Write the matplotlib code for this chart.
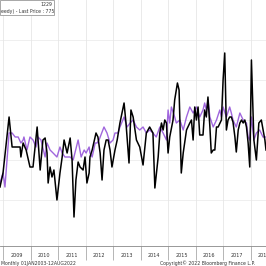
import matplotlib
matplotlib.use('Agg')
import matplotlib.pyplot as plt
import matplotlib.patches as mpatches

# price (black) - monthly, decimal years
px_dates = [2008.89, 2009.00, 2009.22, 2009.33, 2009.62, 2009.65, 2009.73, 2009.84, 2009.98,
            2010.09, 2010.24, 2010.35, 2010.45, 2010.53, 2010.60, 2010.64, 2010.71, 2010.78,
            2010.85, 2010.96, 2011.07, 2011.15, 2011.22, 2011.33, 2011.44, 2011.51, 2011.58,
            2011.65, 2011.73, 2011.80, 2011.91, 2011.98, 2012.05, 2012.13, 2012.16, 2012.24,
            2012.38, 2012.45, 2012.53, 2012.60, 2012.67, 2012.75, 2012.82, 2012.89, 2012.96,
            2013.07, 2013.15, 2013.25, 2013.40, 2013.47, 2013.58, 2013.65, 2013.73, 2013.85,
            2013.97, 2014.09, 2014.21, 2014.33, 2014.45, 2014.52, 2014.64, 2014.70, 2014.76,
            2014.82, 2014.88, 2014.94, 2015.00, 2015.06, 2015.18, 2015.24, 2015.34, 2015.40,
            2015.48, 2015.55, 2015.67, 2015.79, 2015.85, 2015.91, 2015.97, 2016.03, 2016.09,
            2016.15, 2016.27, 2016.33, 2016.39, 2016.45, 2016.52, 2016.57, 2016.64, 2016.70,
            2016.76, 2016.82, 2016.94, 2017.00, 2017.06, 2017.12, 2017.18, 2017.24, 2017.30,
            2017.36, 2017.43, 2017.48, 2017.55, 2017.61, 2017.67, 2017.73, 2017.79, 2017.85,
            2017.91, 2017.97, 2018.03, 2018.12, 2018.21, 2018.30, 2018.39, 2018.52, 2018.56]
px_last = [465, 535, 815, 665, 665, 615, 685, 650, 565,
           565, 765, 550, 700, 710, 635, 485, 565, 515,
           550, 400, 535, 615, 700, 635, 710, 600, 315,
           500, 590, 565, 550, 615, 485, 535, 615, 650,
           735, 715, 635, 500, 650, 700, 700, 650, 565,
           650, 700, 785, 885, 785, 585, 850, 815, 700,
           665, 575, 735, 765, 735, 460, 615, 735, 785,
           750, 800, 785, 635, 715, 800, 900, 985, 950,
           535, 635, 750, 785, 800, 700, 865, 800, 865,
           725, 725, 850, 815, 915, 765, 635, 650, 650,
           765, 765, 800, 1000, 1135, 750, 800, 815, 815,
           790, 715, 640, 750, 785, 800, 785, 800, 765,
           685, 565, 1100, 700, 600, 785, 800, 700, 650]

# second series (purple)
avg_dates = [2008.89, 2009.00, 2009.07, 2009.22, 2009.33, 2009.44, 2009.55, 2009.65, 2009.73,
             2009.76, 2009.87, 2009.98, 2010.09, 2010.20, 2010.27, 2010.38, 2010.53, 2010.60,
             2010.71, 2010.82, 2010.96, 2011.07, 2011.15, 2011.25, 2011.44, 2011.55, 2011.73,
             2011.84, 2011.95, 2012.02, 2012.13, 2012.16, 2012.24, 2012.35, 2012.42, 2012.49,
             2012.67, 2012.78, 2012.89, 2013.00, 2013.07, 2013.18, 2013.25, 2013.40, 2013.51,
             2013.62, 2013.73, 2013.85, 2013.97, 2014.09, 2014.21, 2014.33, 2014.45, 2014.57,
             2014.70, 2014.82, 2014.94, 2015.00, 2015.06, 2015.12, 2015.24, 2015.30, 2015.43,
             2015.55, 2015.67, 2015.79, 2015.85, 2015.91, 2016.03, 2016.15, 2016.27, 2016.33,
             2016.39, 2016.45, 2016.52, 2016.64, 2016.76, 2016.88, 2016.94, 2017.00, 2017.12,
             2017.24, 2017.30, 2017.36, 2017.48, 2017.61, 2017.73, 2017.85, 2017.91, 2017.97,
             2018.03, 2018.12, 2018.21, 2018.33, 2018.45, 2018.56]
avg_vals = [485, 535, 465, 735, 735, 715, 715, 685, 700,
            715, 650, 715, 700, 665, 715, 700, 615, 685,
            650, 635, 615, 665, 635, 615, 615, 600, 700,
            615, 650, 635, 665, 635, 615, 685, 685, 700,
            765, 735, 685, 700, 735, 735, 765, 815, 765,
            785, 800, 765, 750, 765, 735, 750, 735, 715,
            765, 735, 700, 850, 785, 865, 815, 785, 800,
            750, 815, 865, 850, 835, 865, 815, 850, 885,
            850, 900, 815, 765, 800, 850, 815, 865, 815,
            865, 835, 800, 765, 835, 800, 785, 715, 700,
            815, 700, 735, 750, 715, 715]

years = list(range(2009, 2019))
h_grid = [400, 600, 800, 1000, 1200]

fig = plt.figure(figsize=(2.66, 2.66), dpi=100)
ax = fig.add_axes([0, 20 / 266, 1, 246 / 266])

for yv in h_grid:
    ax.axhline(yv, color='#ececec', lw=0.6, zorder=0)
for yr in years + [2019]:
    ax.axvline(yr, color='#e6e6e6', lw=0.6, zorder=0)

ax.plot(avg_dates, avg_vals, color='#a066dd', lw=1.0, zorder=2)
ax.plot(px_dates, px_last, color='black', lw=1.1, zorder=3)

ax.set_xlim(2008.89, 2018.56)
ax.set_ylim(170, 1400)

for s in ['top', 'right', 'left']:
    ax.spines[s].set_visible(False)
ax.spines['bottom'].set_color('#888888')
ax.spines['bottom'].set_linewidth(0.6)
ax.set_yticks([])

ax.set_xticks(years, minor=False)
ax.set_xticklabels([])
ax.tick_params(axis='x', which='major', length=10, width=0.5, color='#999999', direction='out')
ax.set_xticks([y + 0.5 for y in years], minor=True)
ax.set_xticklabels([str(y) for y in years], minor=True)
ax.tick_params(axis='x', which='minor', length=0, pad=5, labelsize=3.5, labelcolor='#333333')

# legend box, top left
box = mpatches.Rectangle((0, 1 - 15 / 246), 54 / 266, 15 / 246, transform=ax.transAxes,
                         facecolor='white', edgecolor='#999999', lw=0.6, zorder=5)
ax.add_patch(box)
ax.text(52 / 266, 1 - 5 / 246, '1229', transform=ax.transAxes, ha='right', va='center',
        fontsize=3.3, color='#333333', zorder=6)
ax.text(1 / 266, 1 - 11 / 246, 'eedy) - Last Price : 775', transform=ax.transAxes,
        ha='left', va='center', fontsize=3.3, color='#333333', zorder=6)

fig.text(1 / 266, 3 / 266, 'Monthly 01JAN2003-12AUG2022', ha='left', va='center',
         fontsize=3.3, color='#333333')
fig.text(207 / 266, 3 / 266, 'Copyright\u00a9 2022 Bloomberg Finance L.P.', ha='center',
         va='center', fontsize=3.3, color='#333333')

fig.savefig('out.png', dpi=100)
